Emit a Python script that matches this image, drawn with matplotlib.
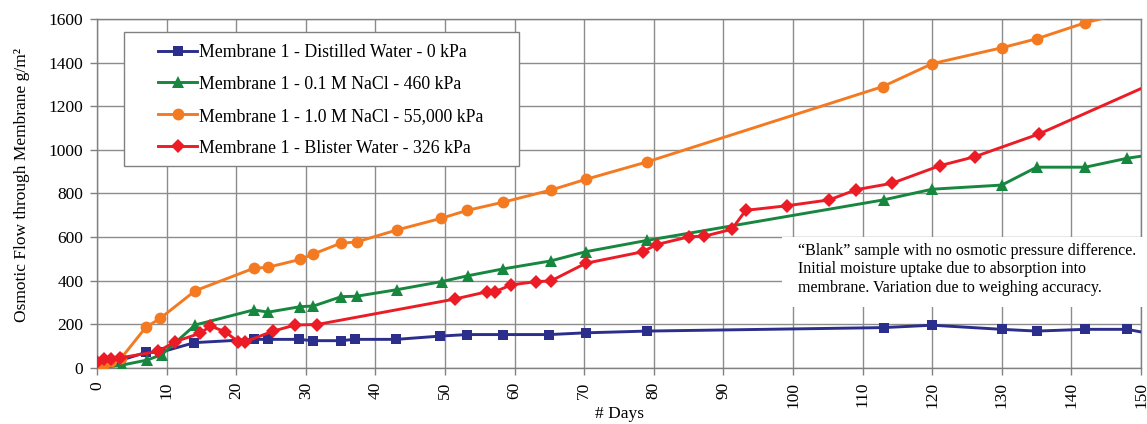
import matplotlib
matplotlib.use("Agg")
import matplotlib.pyplot as plt
from matplotlib.patches import Rectangle
from matplotlib.lines import Line2D

plt.rcParams['font.family'] = ['Liberation Serif', 'DejaVu Serif']

# ---- data ----
days_distilled = [0, 1, 3.5, 7, 9, 14, 22.5, 24.5, 29, 31, 35, 37, 43, 49.3, 53.2, 58.4, 65, 70.2, 79, 113, 120, 130, 135, 142, 148, 151]
flow_distilled = [0, 20, 35, 70, 70, 115, 130, 130, 130, 124, 124, 130, 130, 145, 152, 152, 152, 160, 168, 184, 195, 176, 168, 176, 176, 158]

days_nacl01 = [0, 1.2, 3.6, 7.2, 9.3, 14.1, 22.5, 24.6, 29.2, 31.1, 35.1, 37.3, 43.1, 49.5, 53.3, 58.3, 65.2, 70.2, 79, 113, 120, 130, 135, 142, 148, 151]
flow_nacl01 = [0, 2, 12, 35, 60, 196, 265, 255, 280, 283, 326, 328, 358, 395, 422, 453, 490, 532, 584, 770, 819, 838, 920, 920, 961, 975]

days_nacl10 = [0, 1, 2, 3.5, 7, 9.1, 14.1, 22.5, 24.6, 29.2, 31.1, 35, 37.3, 43.1, 49.4, 53.2, 58.3, 65.2, 70.2, 79, 112.9, 120, 130, 135, 142, 148]
flow_nacl10 = [0, 15, 30, 45, 185, 227, 353, 456, 461, 497, 522, 571, 577, 632, 685, 722, 759, 815, 864, 944, 1290, 1395, 1468, 1509, 1583, 1630]

days_blister = [0, 1, 2, 3.3, 8.8, 11.2, 14.8, 16.3, 18.4, 20.3, 21.3, 25.3, 28.5, 31.6, 51.4, 56.1, 57.2, 59.5, 63.1, 65.2, 70.2, 78.4, 80.4, 85.1, 87.2, 91.2, 93.2, 99.1, 105.2, 109.1, 114.2, 121.1, 126.1, 135.3, 151]
flow_blister = [25, 38, 42, 45, 75, 119, 158, 191, 165, 119, 119, 168, 196, 198, 315, 349, 349, 380, 395, 398, 479, 532, 565, 601, 603, 635, 722, 743, 770, 817, 846, 927, 968, 1072, 1295]

series_labels = ["Membrane 1 - Distilled Water - 0 kPa",
                 "Membrane 1 - 0.1 M NaCl - 460 kPa",
                 "Membrane 1 - 1.0 M NaCl - 55,000 kPa",
                 "Membrane 1 - Blister Water - 326 kPa"]
x_ticks = list(range(0, 151, 10))
y_ticks = list(range(0, 1601, 200))
note = ("\u201cBlank\u201d sample with no osmotic pressure difference.\n"
        "Initial moisture uptake due to absorption into\n"
        "membrane. Variation due to weighing accuracy.")

# ---- figure ----
fig = plt.figure(figsize=(11.47, 4.24), dpi=100)
ax = fig.add_axes([0.0846, 0.1328, 0.9102, 0.8224])

colors = ['#2b2e8a', '#17863e', '#f47a22', '#ec1c26']
markers = ['s', '^', 'o', 'D']
msizes = [7.5, 8.5, 8.5, 7]
data = [(days_distilled, flow_distilled), (days_nacl01, flow_nacl01),
        (days_nacl10, flow_nacl10), (days_blister, flow_blister)]
for i, (d, v) in enumerate(data):
    ax.plot(d, v, color=colors[i], marker=markers[i], markersize=msizes[i],
            linewidth=2.1, markeredgewidth=0, zorder=3 + i)

ax.set_xlim(0, 150)
ax.set_ylim(0, 1600)
ax.set_xticks(x_ticks)
ax.set_yticks(y_ticks)
ax.set_xticklabels([str(t) for t in x_ticks], rotation=90)
ax.tick_params(axis='both', labelsize=12.5, length=5, color='#808080', width=1, pad=5)
ax.grid(True, color='#8c8c8c', linewidth=1.0, zorder=0)
ax.set_axisbelow(True)
for s in ax.spines.values():
    s.set_color('#808080')
    s.set_linewidth(1.0)

ax.set_xlabel("# Days", fontsize=12.5)
ax.xaxis.set_label_coords(0.5, -0.157)
ax.xaxis.label.set_va('bottom')
ax.set_ylabel("Osmotic Flow through Membrane g/m\u00b2", fontsize=12.5)
ax.yaxis.set_label_coords(-0.064, 0.524)

# legend frame
ax.add_patch(Rectangle((0.026, 0.578), 0.378, 0.384, transform=ax.transAxes,
                       facecolor='white', edgecolor='#808080', linewidth=1.0, zorder=8))
leg_handles = [Line2D([], [], color=colors[i], marker=markers[i], markersize=msizes[i],
                      linewidth=2.1, markeredgewidth=0) for i in range(4)]
leg = ax.legend(leg_handles, series_labels, loc='upper left', bbox_to_anchor=(0.0587, 0.929),
                frameon=False, fontsize=12.8, handlelength=2.2, handletextpad=0.1,
                labelspacing=0.84, borderpad=0, borderaxespad=0)
leg.set_zorder(9)

# note box
ax.add_patch(Rectangle((0.656, 0.174), 0.36, 0.201, transform=ax.transAxes,
                       facecolor='white', edgecolor='none', zorder=8, clip_on=False))
ax.text(0.6716, 0.357, note, transform=ax.transAxes, fontsize=11.5, va='top', ha='left',
        linespacing=1.18, zorder=9)

fig.savefig("out.png", dpi=100)
